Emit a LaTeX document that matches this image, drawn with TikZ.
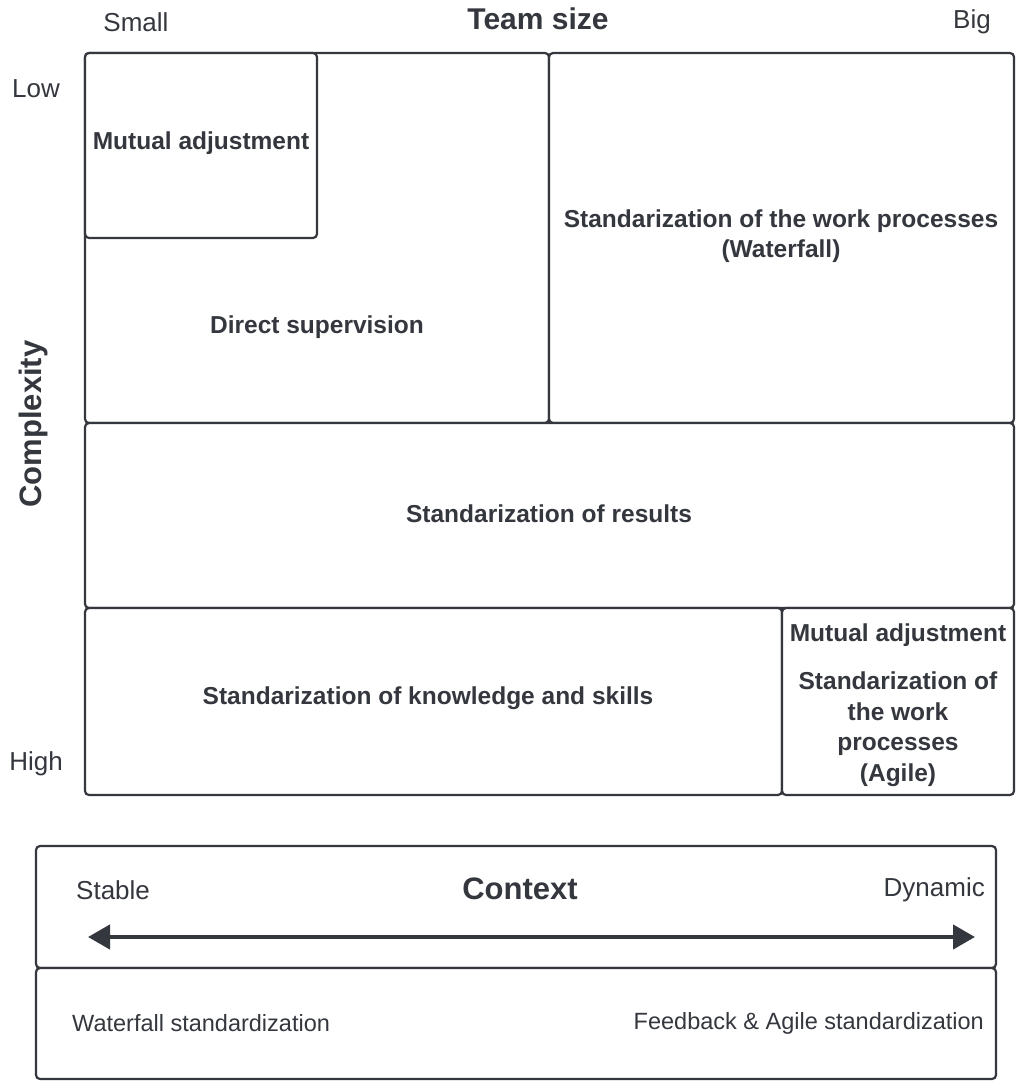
\documentclass[tikz,border=0pt]{standalone}
\usepackage{fontspec}
\setmainfont{Liberation Sans}
\usetikzlibrary{arrows.meta}
\definecolor{ink}{RGB}{52,55,61}
\begin{document}
\begin{tikzpicture}[x=1pt,y=-1pt,
  box/.style={draw=ink, line width=2.2pt, rounded corners=4pt, anchor=north west,
    inner sep=0pt, outer sep=0pt, fill=white},
  lbl/.style={text=ink, font=\fontsize{24.5}{30.5}\selectfont\bfseries, align=center, inner sep=0pt},
  axislbl/.style={text=ink, font=\fontsize{26}{30}\selectfont, inner sep=0pt},
  titlelbl/.style={text=ink, font=\fontsize{31}{36}\selectfont\bfseries, inner sep=0pt},
  ctxlbl/.style={text=ink, font=\fontsize{23.5}{28}\selectfont, inner sep=0pt}]
\useasboundingbox (0,0) rectangle (1018,1081);
\fill[white] (0,0) rectangle (1018,1081);

% matrix boxes
\node[box, minimum width=464pt, minimum height=370pt] (ds) at (85,53) {};
\node[box, minimum width=232pt, minimum height=185pt] (ma1) at (85,53) {};
\node[box, minimum width=465pt, minimum height=370pt] (wf) at (549,53) {};
\node[box, minimum width=929pt, minimum height=185pt] (res) at (85,423) {};
\node[box, minimum width=697pt, minimum height=187pt] (ks) at (85,608) {};
\node[box, minimum width=232pt, minimum height=187pt] (ag) at (782,608) {};

% box texts
\node[lbl] (ma1t) at (201,143) {Mutual adjustment};
\node[lbl] (dst) at (317,327) {Direct supervision};
\node[lbl] (wft) at (781,236) {Standarization of the work processes\\(Waterfall)};
\node[lbl] (rest) at (549,514) {Standarization of results};
\node[lbl] (kst) at (428,698) {Standarization of knowledge and skills};
\node[lbl] (agt1) at (898,635) {Mutual adjustment};
\node[lbl] (agt2) at (898,729) {Standarization of\\the work\\processes\\(Agile)};

% axis labels
\node[titlelbl, font=\fontsize{30}{36}\selectfont\bfseries] (ts) at (538,19) {Team size};
\node[axislbl] (small) at (136,22) {Small};
\node[axislbl] (big) at (972,22) {Big};
\node[axislbl] (low) at (36,89) {Low};
\node[axislbl] (high) at (36,764) {High};
\node[titlelbl, rotate=90] (cx) at (33,424) {Complexity};

% context panel
\node[box, minimum width=960pt, minimum height=122pt] (ctx) at (36,846) {};
\node[box, minimum width=960pt, minimum height=111pt] (bot) at (36,968) {};
\node[titlelbl] (ctxt) at (520,889) {Context};
\node[axislbl, anchor=west] (stable) at (76,890) {Stable};
\node[axislbl, anchor=east] (dyn) at (985,890) {Dynamic};
\coordinate (al) at (88,937);
\coordinate (ar) at (975,937);
\draw[ink, line width=4.5pt, {Triangle[length=22pt,width=24pt]}-{Triangle[length=22pt,width=24pt]}] (al) -- (ar);
\node[ctxlbl, anchor=west] (wfs) at (72,1023) {Waterfall standardization};
\node[ctxlbl, anchor=east] (fas) at (984,1023) {Feedback \& Agile standardization};
\end{tikzpicture}
\end{document}
